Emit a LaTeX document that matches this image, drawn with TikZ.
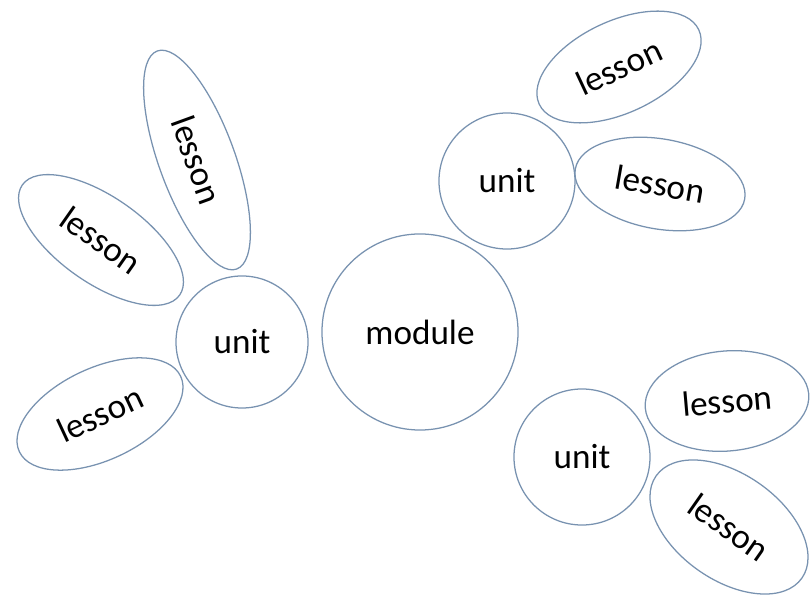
\documentclass[tikz,border=0pt]{standalone}
\usepackage{fontspec}
\setmainfont{Carlito}
\usepackage{tikz}
\usepackage{xcolor}
\usetikzlibrary{shapes}
\usetikzlibrary{positioning, fit, arrows.meta}

\definecolor{rim}{RGB}{120,146,176}

\begin{document}
\begin{tikzpicture}[x=0.025cm, y=-0.025cm,
                    unit/.style={circle, draw=rim, line width=0.9pt, inner sep=0pt, font=\fontsize{25}{30}\selectfont},
                    lesson/.style={ellipse, draw=rim, line width=0.9pt, inner sep=0pt, font=\fontsize{25}{30}\selectfont}]
                    \useasboundingbox (0,0) rectangle (810,596);
                    \node [unit, minimum size=4.9cm] (m) at (420,332) {module};
                    % top right branch
                    \node [unit, minimum size=3.4cm] (u1) at (507,181) {unit};
                    \node [lesson, rotate=25, minimum width=4.4cm, minimum height=2.3cm] (a1) at (619,67) {lesson};
                    \node [lesson, rotate=-10, minimum width=4.3cm, minimum height=2.25cm] (a2) at (660,184) {lesson};
                    % left branch
                    \node [unit, minimum size=3.3cm] (u2) at (242,342) {unit};
                    \node [lesson, rotate=-70, minimum width=5.8cm, minimum height=1.9cm] (b1) at (197,160) {lesson};
                    \node [lesson, rotate=-35, minimum width=4.8cm, minimum height=2.15cm] (b2) at (101,240) {lesson};
                    \node [lesson, rotate=25, minimum width=4.45cm, minimum height=2.3cm] (b3) at (100,414) {lesson};
                    % bottom right branch
                    \node [unit, minimum size=3.4cm] (u3) at (582,457) {unit};
                    \node [lesson, rotate=5, minimum width=4.1cm, minimum height=2.5cm] (c1) at (727,401) {lesson};
                    \node [lesson, rotate=-35, minimum width=4.45cm, minimum height=2.65cm] (c2) at (729,527) {lesson};
                \end{tikzpicture}
\end{document}
